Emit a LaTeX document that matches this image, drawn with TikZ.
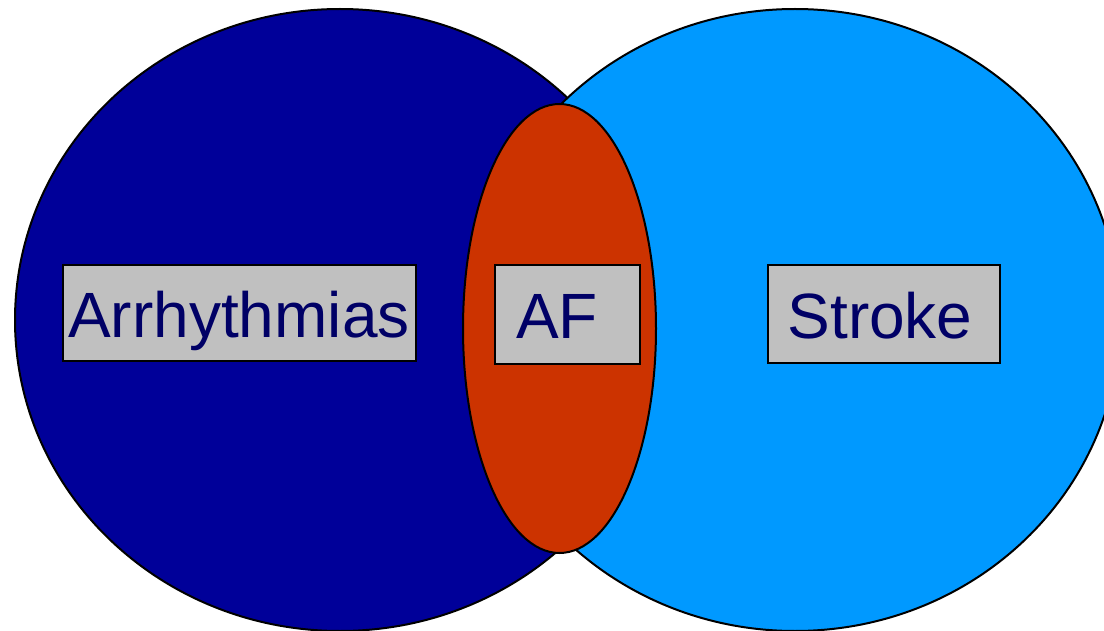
\documentclass[tikz,border=0pt]{standalone}
\usepackage{fontspec}
\setmainfont{Liberation Sans}
\definecolor{darkb}{HTML}{000099}
\definecolor{lightb}{HTML}{0099FF}
\definecolor{afred}{HTML}{CC3300}
\definecolor{boxgray}{HTML}{C0C0C0}
\definecolor{txtnavy}{HTML}{000066}
\tikzset{
  setshape/.style={draw=black, line width=2pt},
  labelbox/.style={draw=black, line width=2pt, fill=boxgray, inner sep=0pt, rectangle},
  labeltxt/.style={text=txtnavy, font=\fontsize{64}{64}\selectfont, inner sep=0pt, anchor=base}
}
\begin{document}
\begin{tikzpicture}[x=1pt,y=-1pt]
\clip (0,0) rectangle (1104,631);
\fill[white] (0,0) rectangle (1104,631);
\draw[setshape, fill=darkb] (340,320) ellipse [x radius=325, y radius=311];
\draw[setshape, fill=lightb] (795,320) ellipse [x radius=325, y radius=311];
\draw[setshape, fill=afred] (559.5,328.5) ellipse [x radius=96.5, y radius=224.5];
\node[labelbox, minimum width=353pt, minimum height=96pt] (arrbox) at (239.5,313) {};
\node[labelbox, minimum width=145pt, minimum height=99pt] (afbox) at (567.5,314.5) {};
\node[labelbox, minimum width=232pt, minimum height=98pt] (strbox) at (884,314) {};
\node[labeltxt] (arrtxt) at (239,337.5) {Arrhythmias};
\node[labeltxt] (aftxt) at (557,338) {AF};
\node[labeltxt] (strtxt) at (880,338) {Stroke};
\end{tikzpicture}
\end{document}
